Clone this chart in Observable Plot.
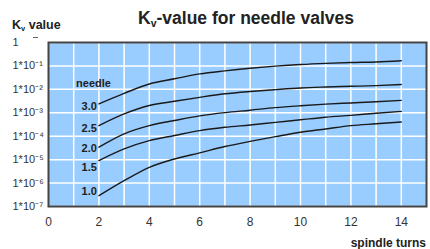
<!DOCTYPE html>
<html>
<head>
<meta charset="utf-8">
<script src="https://cdn.jsdelivr.net/npm/d3@7"></script>
<script src="https://cdn.jsdelivr.net/npm/@observablehq/plot@0.6"></script>
<style>
  body { margin: 0; background: #fff; }
  #wrap { position: relative; width: 430px; height: 249px; font-family: "Liberation Sans", Arial, sans-serif; color: #222; }
  #wrap svg { position: absolute; left: 0; top: 0; }
  .title { position: absolute; left: 0; width: 492px; top: 8px; text-align: center; font-size: 17.5px; font-weight: bold; white-space: nowrap; }
  .ylab { position: absolute; left: 12px; top: 18px; font-size: 12.5px; font-weight: bold; white-space: nowrap; }
  .xlab { position: absolute; right: 4px; top: 236px; font-size: 12px; font-weight: bold; white-space: nowrap; }
  sub { font-size: 0.6em; vertical-align: -0.3em; line-height: 0; }
  .dash { position: absolute; left: 33px; top: 37px; width: 5px; height: 1px; background: #666; }
</style>
</head>
<body>
<div id="wrap">
  <div class="title">K<sub>v</sub>-value for needle valves</div>
  <div class="ylab">K<sub>v</sub> value</div>
  <div class="dash"></div>
  <div class="xlab">spindle turns</div>
</div>
<script>
const turns = [2, 3, 4, 5, 6, 7, 8, 9, 10, 11, 12, 13, 14];
const needles = ["3.0", "2.5", "2.0", "1.5", "1.0"];
const kv30 = [2.40e-3, 6.76e-3, 1.70e-2, 2.82e-2, 4.57e-2, 6.17e-2, 7.94e-2, 9.77e-2, 0.115, 0.129, 0.140, 0.148, 0.166];
const kv25 = [2.82e-4, 8.91e-4, 2.04e-3, 3.09e-3, 4.57e-3, 6.46e-3, 8.13e-3, 9.77e-3, 1.15e-2, 1.26e-2, 1.35e-2, 1.45e-2, 1.62e-2];
const kv20 = [3.39e-5, 1.26e-4, 2.82e-4, 4.68e-4, 7.41e-4, 1.02e-3, 1.29e-3, 1.66e-3, 2.00e-3, 2.34e-3, 2.63e-3, 2.95e-3, 3.39e-3];
const kv15 = [9.12e-6, 2.88e-5, 6.46e-5, 1.07e-4, 1.74e-4, 2.40e-4, 3.02e-4, 3.89e-4, 5.01e-4, 6.46e-4, 7.76e-4, 9.55e-4, 1.15e-3];
const kv10 = [2.88e-7, 1.26e-6, 4.68e-6, 1.07e-5, 1.95e-5, 3.63e-5, 6.03e-5, 9.55e-5, 1.48e-4, 2.04e-4, 2.82e-4, 3.39e-4, 4.07e-4];
const xTicks = [0, 2, 4, 6, 8, 10, 12, 14];
const yTicks = [1e-7, 1e-6, 1e-5, 1e-4, 1e-3, 1e-2, 1e-1, 1];

const series = [kv30, kv25, kv20, kv15, kv10];
const data = [];
needles.forEach((n, i) => turns.forEach((t, j) => data.push({needle: n, turns: t, kv: series[i][j]})));
const starts = data.filter(d => d.turns === turns[0]);
const labelDy = {"3.0": 3, "2.5": 3, "2.0": 1, "1.5": 7, "1.0": -4};

const sup = {"-": "\u207B", "0": "\u2070", "1": "\u00B9", "2": "\u00B2", "3": "\u00B3", "4": "\u2074", "5": "\u2075", "6": "\u2076", "7": "\u2077", "8": "\u2078", "9": "\u2079"};
const fmt = d => {
  const e = Math.round(Math.log10(d));
  if (e === 0) return "1";
  return "1*10" + String(e).split("").map(c => sup[c]).join("");
};

const chart = Plot.plot({
  width: 430,
  height: 249,
  marginLeft: 48,
  marginRight: 4,
  marginTop: 42,
  marginBottom: 43,
  style: {fontFamily: "'Liberation Sans', Arial, sans-serif", background: "transparent", color: "#333"},
  x: {domain: [0, 15]},
  y: {type: "log", domain: [1e-7, 1]},
  marks: [
    Plot.frame({fill: "#99ccff", stroke: null}),
    Plot.gridX({ticks: d3.range(1, 15), stroke: "white", strokeOpacity: 1, strokeWidth: 1.5}),
    Plot.gridY({ticks: yTicks, stroke: "white", strokeOpacity: 1, strokeWidth: 1.5}),
    Plot.line(data, {x: "turns", y: "kv", z: "needle", stroke: "#1a1a1a", strokeWidth: 1.4, curve: "monotone-x"}),
    ...starts.map(s => Plot.text([s], {x: "turns", y: "kv", text: "needle", textAnchor: "end", dx: -2, dy: labelDy[s.needle], fontSize: 11, fontWeight: "bold", fill: "#222"})),
    Plot.text(starts.slice(0, 1), {x: "turns", y: "kv", text: () => "needle", textAnchor: "end", dx: 12, dy: -20, fontSize: 11, fontWeight: "bold", fill: "#222"}),
    Plot.frame({stroke: "#444", strokeWidth: 2}),
    Plot.axisX({ticks: xTicks, tickSize: 0, tickPadding: 11, fontSize: 12, label: null}),
    Plot.axisY({ticks: yTicks, tickFormat: fmt, tickSize: 0, tickPadding: 0, textAnchor: "start", dx: -36, fontSize: 11, label: null})
  ]
});
document.getElementById("wrap").prepend(chart);
</script>
</body>
</html>
